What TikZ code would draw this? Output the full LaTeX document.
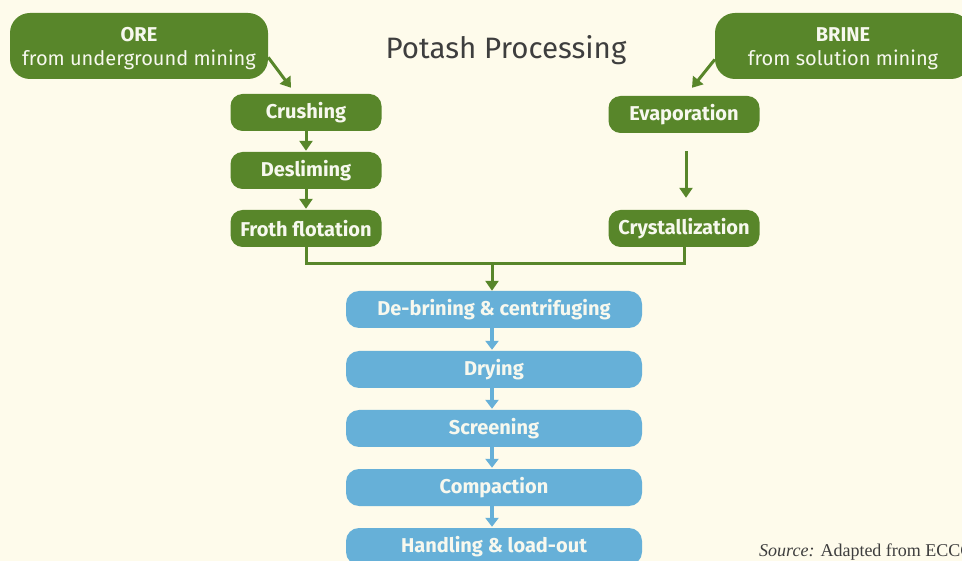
\documentclass[tikz,border=0pt]{standalone}
\usepackage{fontspec}
\setmainfont{Fira Sans}
\newfontfamily\srcfont{Liberation Serif}
\usetikzlibrary{arrows.meta}
\definecolor{bg}{HTML}{FEFBEB}
\definecolor{leaf}{HTML}{58862A}
\definecolor{sky}{HTML}{66B0D8}
\definecolor{boxtext}{HTML}{F7F8EE}
\definecolor{titlegray}{HTML}{3E3E3E}
\tikzset{
  greenstep/.style={fill=leaf, text=boxtext, rounded corners=12pt,
    minimum width=151pt, minimum height=37pt, inner sep=0pt,
    font=\fontsize{20}{24}\selectfont\bfseries},
  bluestep/.style={fill=sky, text=boxtext, rounded corners=13pt,
    minimum width=296pt, minimum height=37pt, inner sep=0pt,
    font=\fontsize{20}{24}\selectfont\bfseries},
  sourcebox/.style={fill=leaf, rounded corners=20pt,
    minimum height=66pt, inner sep=0pt},
  sourcetext/.style={text=boxtext, align=center, inner sep=0pt, yshift=-3pt,
    font=\fontsize{20}{24}\selectfont},
  gline/.style={draw=leaf, line width=3pt},
  garrow/.style={gline, -{Triangle[width=13pt,length=10pt]}},
  barrow/.style={draw=sky, line width=4pt, -{Triangle[width=13pt,length=9pt]}},
}
\begin{document}
\begin{tikzpicture}[x=1pt,y=-1pt]
  \useasboundingbox (0,0) rectangle (962,561);
  \fill[bg] (0,0) rectangle (962,561);
  \clip (0,0) rectangle (962,561);

  % title
  \node[text=titlegray, font=\fontsize{29.5}{34}\selectfont] (title) at (506,50) {Potash Processing};

  % raw material sources
  \node[sourcebox, minimum width=258pt,
        label={[sourcetext]center:{{\bfseries ORE}\\from underground mining}}] (ore) at (139,46) {};
  \node[sourcebox, minimum width=256pt,
        label={[sourcetext]center:{{\bfseries BRINE}\\from solution mining}}] (brine) at (843,46) {};

  % ore branch
  \node[greenstep] (crush) at (306,112.5) {Crushing};
  \node[greenstep] (desl)  at (306,170.5) {Desliming};
  \node[greenstep] (froth) at (306,228.5) {Froth flotation};

  % brine branch
  \node[greenstep] (evap)  at (684,114.5) {Evaporation};
  \node[greenstep] (cryst) at (684,228.5) {Crystallization};

  % common finishing line
  \node[bluestep] (deb)  at (494,309.5) {De-brining \& centrifuging};
  \node[bluestep] (dry)  at (494,369.5) {Drying};
  \node[bluestep] (scr)  at (494,428.5) {Screening};
  \node[bluestep] (comp) at (494,487.5) {Compaction};
  \node[bluestep] (hand) at (494,546.5) {Handling \& load-out};

  % connectors, green part
  \draw[garrow] (ore.-5) -- ([xshift=-15pt,yshift=6pt]crush.north);
  \draw[garrow] (brine.186) -- ([xshift=8pt,yshift=8pt]evap.north);
  \draw[garrow] (crush.south) -- ([yshift=1pt]desl.north);
  \draw[garrow] (desl.south) -- ([yshift=1pt]froth.north);
  \draw[garrow] ([xshift=2pt,yshift=-18pt]evap.south) -- ([xshift=2pt,yshift=12pt]cryst.north);
  \coordinate (merge) at (492,264);
  \draw[gline] (froth.south) |- (merge) -| (cryst.south);
  \draw[garrow] (merge) -- ([xshift=-2pt]deb.north);

  % connectors, blue part
  \draw[barrow] ([xshift=-2pt]deb.south) -- ([xshift=-2pt,yshift=1pt]dry.north);
  \draw[barrow] ([xshift=-2pt]dry.south) -- ([xshift=-2pt,yshift=1pt]scr.north);
  \draw[barrow] ([xshift=-2pt]scr.south) -- ([xshift=-2pt,yshift=1pt]comp.north);
  \draw[barrow] ([xshift=-2pt]comp.south) -- ([xshift=-2pt,yshift=1pt]hand.north);

  % attribution
  \node[anchor=base west, inner sep=0pt, text=titlegray, font=\srcfont\fontsize{18}{22}\selectfont] (src) at (759,556)
    {\textit{Source:} Adapted from ECCC};
\end{tikzpicture}
\end{document}
